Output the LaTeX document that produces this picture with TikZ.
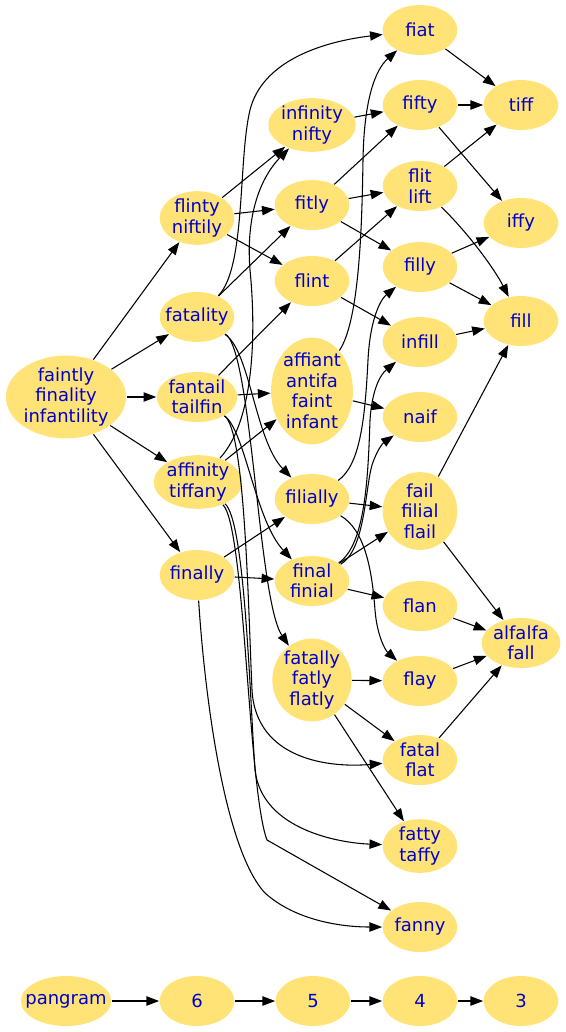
\documentclass[tikz,border=0pt]{standalone}
\usepackage{fontspec}
\newfontfamily\wordfont{DejaVu Sans}
\usetikzlibrary{arrows.meta, shapes.geometric}
\definecolor{wordfill}{HTML}{FFE377}
\definecolor{wordblue}{HTML}{0000CC}

\begin{document}
\begin{tikzpicture}[
  x=0.75pt, y=-0.75pt,
  >={Triangle[length=9.5pt,width=7pt]},
  line width=0.8pt,
  every node/.style={ellipse, fill=wordfill, text=wordblue, align=center, inner sep=0pt,
    minimum width=56pt, minimum height=37.5pt, font=\wordfont\fontsize{13.5}{15.4}\selectfont},
  oneline/.style={inner xsep=-6.5pt}
]
\useasboundingbox (0,0) rectangle (566,1032);

% seven letters
\node (faintly) at (66,397) {faintly\\finality\\infantility};
% six letters
\node (flinty) at (197,218) {flinty\\niftily};
\node (fatality) [oneline] at (197,317) {fatality};
\node (fantail) at (197,397) {fantail\\tailfin};
\node (affinity) at (198,482) {affinity\\tiffany};
\node (finally) [oneline] at (197,575) {finally};
% five letters
\node (infinity) at (312,125) {infinity\\nifty};
\node (fitly) [oneline] at (312,205) {fitly};
\node (flint) [oneline] at (312,281) {flint};
\node (affiant) at (312,391) {affiant\\antifa\\faint\\infant};
\node (filially) [oneline] at (312,499) {filially};
\node (final) at (312,581) {final\\finial};
\node (fatally) at (312,680) {fatally\\fatly\\flatly};
% four letters
\node (fiat) [oneline] at (420,30) {fiat};
\node (fifty) [oneline] at (420,105) {fifty};
\node (flit) at (420,186) {flit\\lift};
\node (filly) [oneline] at (420,267) {filly};
\node (infill) [oneline] at (420,342) {infill};
\node (naif) [oneline] at (420,417) {naif};
\node (fail) at (420,511) {fail\\filial\\flail};
\node (flan) [oneline] at (420,606) {flan};
\node (flay) [oneline] at (420,681) {flay};
\node (fatal) at (420,760) {fatal\\flat};
\node (fatty) at (420,846) {fatty\\taffy};
\node (fanny) [oneline] at (420,927) {fanny};
% three letters
\node (tiff) [oneline] at (521,105) {tiff};
\node (iffy) [oneline] at (521,223) {iffy};
\node (fill) [oneline] at (521,321) {fill};
\node (alfalfa) at (521,643) {alfalfa\\fall};
% legend row
\node (pangram) [oneline] at (66,1001) {pangram};
\node (n6) at (197,1001) {6};
\node (n5) at (313,1001) {5};
\node (n4) at (420,1001) {4};
\node (n3) at (521,1001) {3};

\draw[->] (faintly) -- (flinty);
\draw[->] (faintly) -- (fatality);
\draw[->] (faintly) -- (fantail);
\draw[->] (faintly) -- (affinity);
\draw[->] (faintly) -- (finally);

\draw[->] (flinty) -- (infinity);
\draw[->] (flinty) -- (fitly);
\draw[->] (flinty) -- (flint);
\draw[->] (fatality) -- (fitly);
\draw[->] (fatality) .. controls (250,350) and (255,440) .. (filially);
\draw[->] (fatality) .. controls (252,350) and (258,600) .. (fatally);
\draw[->] (fatality) .. controls (246,268) and (238,160) .. (250,110) .. controls (262,62) and (320,42) .. (fiat);
\draw[->] (fantail) -- (flint);
\draw[->] (fantail) -- (affiant);
\draw[->] (fantail) .. controls (245,430) and (255,520) .. (final);
\draw[->] (fantail) .. controls (245,430) and (248,600) .. (252,690) .. controls (256,760) and (330,768) .. (fatal);
\draw[->] (affinity) .. controls (255,420) and (256,330) .. (250,270) .. controls (246,220) and (258,180) .. (infinity);
\draw[->] (affinity) -- (affiant);
\draw[->] (affinity) .. controls (245,520) and (250,700) .. (255,770) .. controls (262,830) and (340,843) .. (fatty);
\draw[->] (affinity) .. controls (245,525) and (248,790) .. (267,840) -- (fanny);
\draw[->] (finally) -- (filially);
\draw[->] (finally) -- (final);
\draw[->] (finally) .. controls (205,700) and (225,850) .. (265,893) .. controls (295,920) and (340,927) .. (fanny);

\draw[->] (infinity) -- (fifty);
\draw[->] (fitly) -- (fifty);
\draw[->] (fitly) -- (flit);
\draw[->] (fitly) -- (filly);
\draw[->] (flint) -- (flit);
\draw[->] (flint) -- (infill);
\draw[->] (affiant) .. controls (360,320) and (362,220) .. (363,160) .. controls (364,100) and (375,70) .. (fiat);
\draw[->] (affiant) -- (naif);
\draw[->] (filially) .. controls (360,465) and (365,420) .. (368,360) .. controls (370,320) and (380,300) .. (filly);
\draw[->] (filially) -- (fail);
\draw[->] (filially) .. controls (365,530) and (372,570) .. (375,610) .. controls (377,635) and (385,650) .. (flay);
\draw[->] (final) .. controls (365,545) and (368,480) .. (370,420) .. controls (372,390) and (380,375) .. (infill);
\draw[->] (final) .. controls (365,550) and (365,490) .. (372,465) .. controls (377,450) and (383,443) .. (naif);
\draw[->] (final) -- (fail);
\draw[->] (final) -- (flan);
\draw[->] (fatally) -- (flay);
\draw[->] (fatally) -- (fatal);
\draw[->] (fatally) -- (fatty);

\draw[->] (fiat) -- (tiff);
\draw[->] (fifty) -- (tiff);
\draw[->] (fifty) -- (iffy);
\draw[->] (flit) -- (tiff);
\draw[->] (flit) .. controls (470,235) and (495,270) .. (fill);
\draw[->] (filly) -- (iffy);
\draw[->] (filly) -- (fill);
\draw[->] (infill) -- (fill);
\draw[->] (fail) -- (fill);
\draw[->] (fail) -- (alfalfa);
\draw[->] (flan) -- (alfalfa);
\draw[->] (flay) -- (alfalfa);
\draw[->] (fatal) -- (alfalfa);

\draw[->] (pangram) -- (n6);
\draw[->] (n6) -- (n5);
\draw[->] (n5) -- (n4);
\draw[->] (n4) -- (n3);
\end{tikzpicture}
\end{document}
